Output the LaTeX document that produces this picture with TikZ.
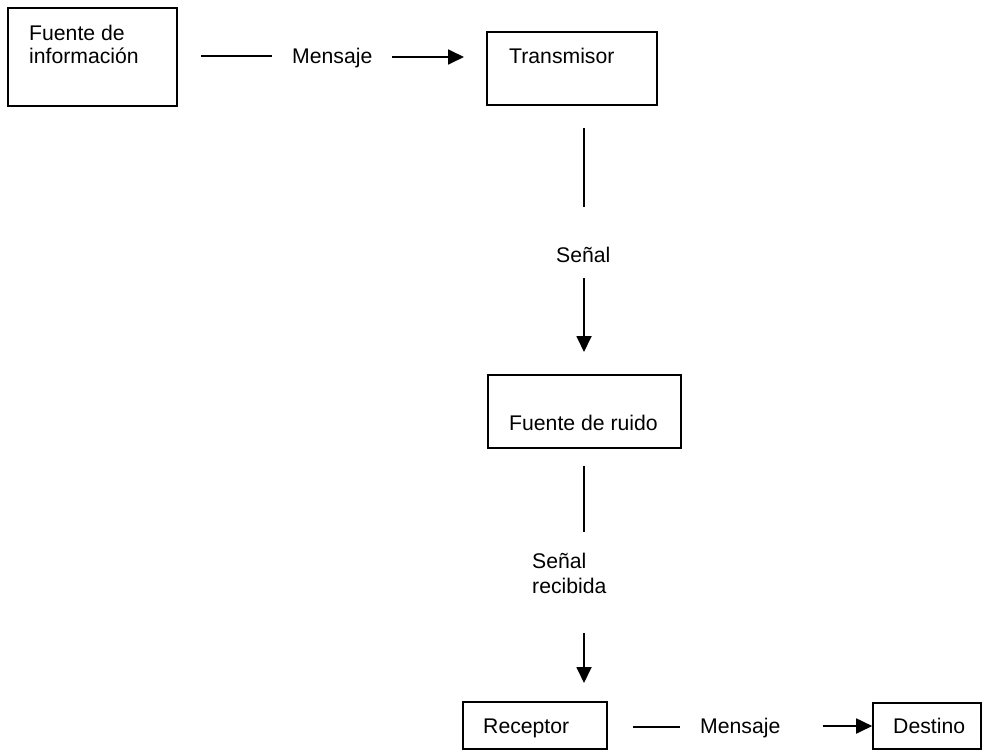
\documentclass[tikz,border=0pt]{standalone}
\usepackage{fontspec}
\setmainfont{Liberation Sans}
\usetikzlibrary{arrows.meta}
\begin{document}
\begin{tikzpicture}[x=1pt,y=-1pt,
  box/.style={draw=black,line width=1.6pt,inner sep=0pt,fill=none},
  txt/.style={inner sep=0pt,font=\fontsize{21.2}{24}\selectfont,text=black},
  conn/.style={draw=black,line width=1.8pt},
  arr/.style={conn,-{Triangle[length=16pt,width=15pt]}}]
\useasboundingbox (0,0) rectangle (982,750);
\fill[white] (0,0) rectangle (982,750);
% boxes
\node[box,minimum width=169pt,minimum height=98pt] (info) at (92.5,57) {};
\node[box,minimum width=170pt,minimum height=73pt] (trans) at (572,68.5) {};
\node[box,minimum width=193pt,minimum height=73pt] (ruido) at (584.5,411.5) {};
\node[box,minimum width=144pt,minimum height=47pt] (recep) at (535,725.5) {};
\node[box,minimum width=108pt,minimum height=46pt] (dest) at (927,726) {};
% box texts
\node[txt,anchor=base west] (t1a) at (29,40) {Fuente de};
\node[txt,anchor=base west] (t1b) at (29,63) {información};
\node[txt,anchor=base west] (t2) at (509,63) {Transmisor};
\node[txt,anchor=base west] (t3) at (509,430) {Fuente de ruido};
\node[txt,anchor=base west] (t4) at (483,733) {Receptor};
\node[txt,anchor=base west] (t5) at (893,733) {Destino};
% connector labels
\node[txt,anchor=base west] (m1) at (292,63) {Mensaje};
\node[txt,anchor=base west] (s1) at (556,262) {Señal};
\node[txt,anchor=base west] (s2a) at (532,568) {Señal};
\node[txt,anchor=base west] (s2b) at (532,593) {recibida};
\node[txt,anchor=base west] (m2) at (700,733) {Mensaje};
% connector end points
\coordinate (a1) at (201,56);  \coordinate (a2) at (272,56);
\coordinate (a3) at (392,57);  \coordinate (a4) at (464,57);
\coordinate (b1) at (584,128); \coordinate (b2) at (584,207);
\coordinate (b3) at (584,278); \coordinate (b4) at (584,352);
\coordinate (c1) at (584,466); \coordinate (c2) at (584,532);
\coordinate (c3) at (584,633); \coordinate (c4) at (584,683);
\coordinate (d1) at (633,727); \coordinate (d2) at (680,727);
\coordinate (d3) at (823,726); \coordinate (d4) at (dest.west |- d3);
% connectors
\draw[conn] (a1) -- (a2);
\draw[arr] (a3) -- (a4);
\draw[conn] (b1) -- (b2);
\draw[arr] (b3) -- (b4);
\draw[conn] (c1) -- (c2);
\draw[arr] (c3) -- (c4);
\draw[conn] (d1) -- (d2);
\draw[arr] (d3) -- (d4);
\end{tikzpicture}
\end{document}
